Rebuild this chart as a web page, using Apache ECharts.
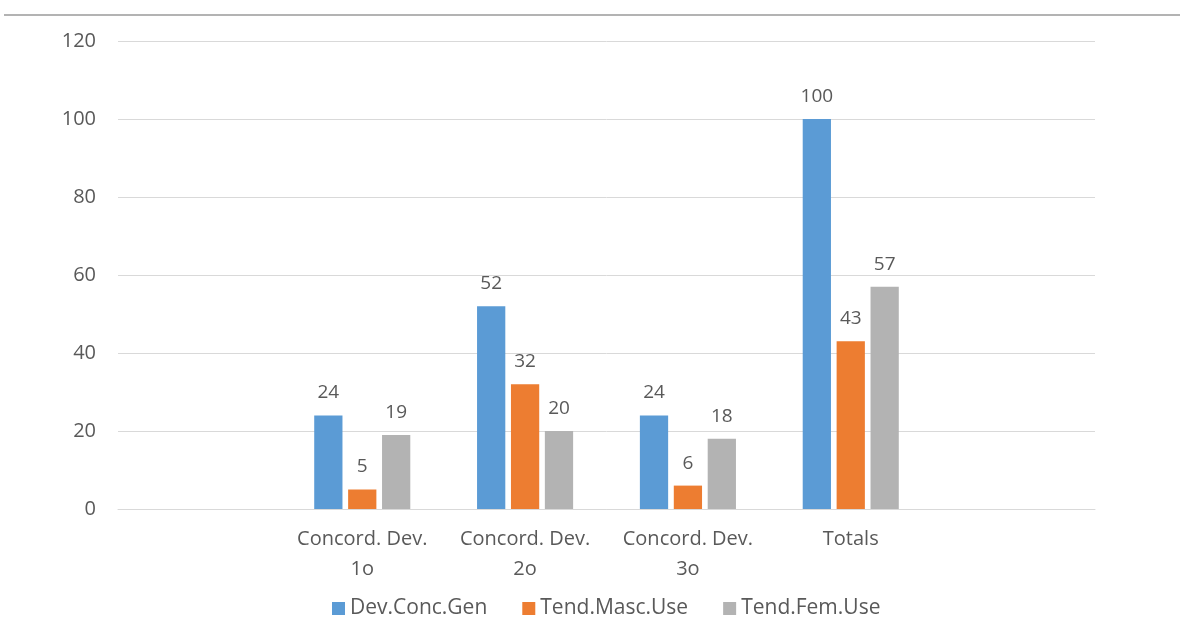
<!DOCTYPE html>
<html>
<head>
<meta charset="utf-8">
<script src="https://cdn.jsdelivr.net/npm/echarts@6/dist/echarts.min.js"></script>
<style>
  html, body { margin: 0; padding: 0; background: #fff; }
  #chart { width: 1180px; height: 619px; }
</style>
</head>
<body>
<div id="chart"></div>
<script>
// categories (empty slots at both ends, as in the original)
const categories = ['', 'Concord. Dev.\n1o', 'Concord. Dev.\n2o', 'Concord. Dev.\n3o', 'Totals', ''];
const devConcGen = [null, 24, 52, 24, 100, null];
const tendMascUse = [null, 5, 32, 6, 43, null];
const tendFemUse = [null, 19, 20, 18, 57, null];

const textColor = '#595959';
const font = 'Open Sans';

function barSeries(name, data, color) {
  return {
    name: name,
    type: 'bar',
    data: data,
    barGap: '20%',
    barCategoryGap: '41%',
    itemStyle: { color: color },
    label: {
      show: true,
      position: 'top',
      distance: 13,
      color: textColor,
      fontFamily: font,
      fontSize: 19
    }
  };
}

const chart = echarts.init(document.getElementById('chart'));
chart.setOption({
  animation: false,
  textStyle: { fontFamily: font },
  graphic: [
    {
      type: 'line',
      shape: { x1: 4, y1: 15, x2: 1180, y2: 15 },
      style: { stroke: '#b3b3b3', lineWidth: 2 }
    }
  ],
  legend: {
    top: 593,
    left: 327,
    itemWidth: 13,
    itemHeight: 13,
    itemGap: 35,
    icon: 'rect',
    textStyle: { color: textColor, fontSize: 21, fontFamily: font },
    data: ['Dev.Conc.Gen', 'Tend.Masc.Use', 'Tend.Fem.Use']
  },
  grid: {
    left: 118,
    right: 85,
    top: 41,
    bottom: 110
  },
  xAxis: {
    type: 'category',
    data: categories,
    axisTick: { show: false },
    axisLine: { lineStyle: { color: '#d9d9d9', width: 1 } },
    axisLabel: {
      color: textColor,
      fontSize: 20,
      fontFamily: font,
      lineHeight: 30,
      margin: 15,
      interval: 0
    }
  },
  yAxis: {
    type: 'value',
    min: 0,
    max: 120,
    interval: 20,
    axisLine: { show: false },
    axisTick: { show: false },
    axisLabel: { color: textColor, fontSize: 20, fontFamily: font, margin: 22 },
    splitLine: { lineStyle: { color: '#d9d9d9', width: 1 } }
  },
  series: [
    barSeries('Dev.Conc.Gen', devConcGen, '#5b9bd5'),
    barSeries('Tend.Masc.Use', tendMascUse, '#ed7d31'),
    barSeries('Tend.Fem.Use', tendFemUse, '#b3b3b3')
  ]
});
</script>
</body>
</html>
